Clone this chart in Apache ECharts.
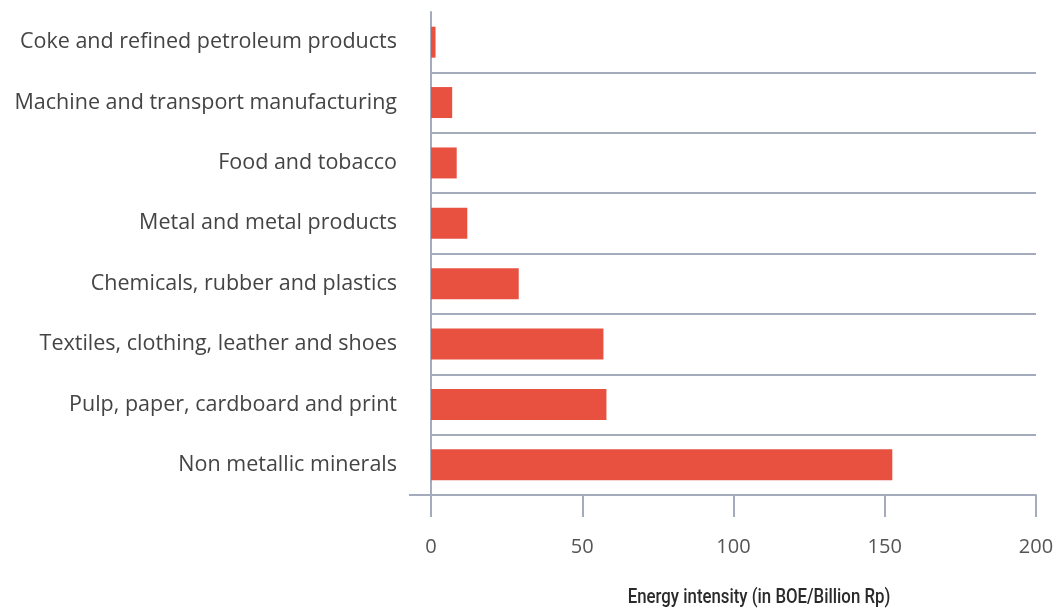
<!DOCTYPE html>
<html>
<head>
<meta charset="utf-8">
<script src="https://cdn.jsdelivr.net/npm/echarts@6/dist/echarts.min.js"></script>
<style>
  html, body { margin: 0; padding: 0; background: #fff; }
  #main { width: 1059px; height: 610px; }
</style>
</head>
<body>
<div id="main"></div>
<script>
// sectors, top to bottom
const sectors = [
  'Coke and refined petroleum products',
  'Machine and transport manufacturing',
  'Food and tobacco',
  'Metal and metal products',
  'Chemicals, rubber and plastics',
  'Textiles, clothing, leather and shoes',
  'Pulp, paper, cardboard and print',
  'Non metallic minerals'
];
// energy intensity, BOE per billion Rp
const intensity = [1.5, 7, 8.5, 12, 29, 57, 58, 152.5];

const axisTitle = 'Energy intensity (in BOE/Billion Rp)';
const axisColor = '#a3abbd';
const chart = echarts.init(document.getElementById('main'));

chart.setOption({
  backgroundColor: '#fff',
  animation: false,
  grid: { left: 431, right: 23, top: 12, bottom: 115, outerBoundsMode: 'none' },
  xAxis: {
    type: 'value',
    min: 0,
    max: 200,
    interval: 50,
    axisLine: { show: true, lineStyle: { color: axisColor, width: 2 } },
    axisTick: { show: true, length: 22, lineStyle: { color: axisColor, width: 2 } },
    axisLabel: { margin: 42, fontFamily: 'Open Sans, sans-serif', fontSize: 20, color: '#555' },
    splitLine: { show: false }
  },
  yAxis: {
    type: 'category',
    data: sectors,
    inverse: true,
    axisLine: { show: true, lineStyle: { color: axisColor, width: 2 } },
    axisTick: { show: false },
    axisLabel: {
      margin: 34,
      padding: [4, 0, 0, 0],
      fontFamily: 'Open Sans, sans-serif',
      fontSize: 21.5,
      color: '#444'
    },
    splitLine: {
      show: true,
      showMinLine: false,
      showMaxLine: false,
      lineStyle: { color: axisColor, width: 2 }
    }
  },
  graphic: [
    {
      type: 'line',
      shape: { x1: 409, y1: 495, x2: 431, y2: 495 },
      style: { stroke: axisColor, lineWidth: 2 },
      z: 10
    },
    {
      type: 'text',
      x: 759,
      y: 598,
      scaleX: 0.8,
      style: {
        text: axisTitle,
        fontFamily: 'Roboto, sans-serif',
        fontSize: 21,
        fontWeight: 500,
        fill: '#2a2a2a',
        align: 'center',
        verticalAlign: 'middle'
      }
    }
  ],
  series: [
    {
      type: 'bar',
      data: intensity,
      barWidth: 31,
      itemStyle: { color: '#e85140' }
    }
  ]
});
</script>
</body>
</html>
